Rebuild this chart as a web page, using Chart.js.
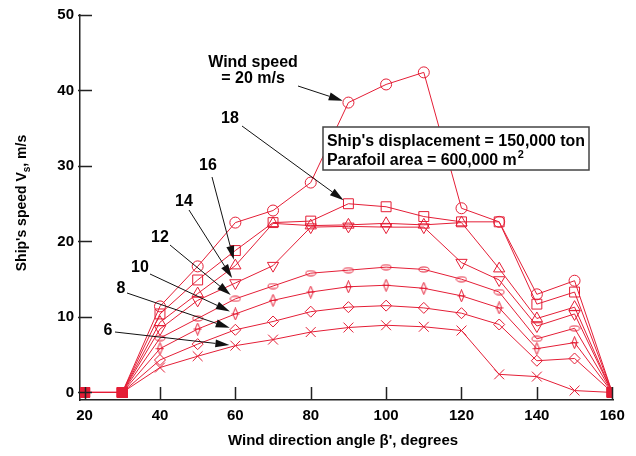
<!DOCTYPE html>
<html>
<head>
<meta charset="utf-8">
<script src="https://cdn.jsdelivr.net/npm/chart.js@4.4.0/dist/chart.umd.min.js"></script>
<style>body{margin:0;background:#fff}canvas{display:block}</style>
</head>
<body>
<canvas id="c" width="636" height="456"></canvas>
<script>
// Ship speed vs wind direction, one curve per wind speed

const angles = [20, 30, 40, 50, 60, 70, 80, 90, 100, 110, 120, 130, 140, 150, 160];
const ws20 = [0, 0, 11.4, 16.7, 22.5, 24.1, 27.8, 38.4, 40.8, 42.4, 24.4, 22.6, 13.0, 14.8, 0];
const ws18 = [0, 0, 10.4, 14.9, 18.8, 22.5, 22.7, 25.0, 24.6, 23.3, 22.6, 22.6, 11.7, 13.3, 0];
const ws16 = [0, 0, 9.3, 13.1, 16.8, 22.4, 22.1, 22.2, 22.4, 22.2, 22.5, 16.4, 9.8, 11.3, 0];
const ws14 = [0, 0, 8.4, 12.2, 14.5, 16.8, 21.9, 22.0, 21.9, 21.9, 17.2, 14.9, 8.8, 10.4, 0];
const ws12 = [0, 0, 7.2, 9.8, 12.4, 14.1, 15.8, 16.2, 16.6, 16.3, 15.0, 13.3, 7.1, 8.5, 0];
const ws10 = [0, 0, 5.8, 8.4, 10.4, 12.2, 13.3, 14.0, 14.2, 13.8, 12.8, 11.2, 5.8, 6.6, 0];
const ws8  = [0, 0, 4.3, 6.4, 8.3, 9.4, 10.7, 11.3, 11.5, 11.2, 10.5, 9.0, 4.2, 4.5, 0];
const ws6  = [0, 0, 3.3, 4.8, 6.2, 7.0, 8.0, 8.6, 8.9, 8.7, 8.2, 2.4, 2.1, 0.25, 0];

const xTicks = [20, 40, 60, 80, 100, 120, 140, 160];
const yTicks = [0, 10, 20, 30, 40, 50];

const RED = '#e41e36';
const FONT = '"Liberation Sans", Arial, sans-serif';

// small custom markers
function markCanvas(w, h, draw){
  const c = document.createElement('canvas');
  c.width = w; c.height = h;
  const g = c.getContext('2d');
  g.strokeStyle = RED; g.lineWidth = 1;
  draw(g);
  return c;
}
const thinDiamond = markCanvas(9, 13, g => {
  g.beginPath();
  g.moveTo(4.5, 0.5); g.lineTo(7, 6.5); g.lineTo(4.5, 12.5); g.lineTo(2, 6.5); g.closePath();
  g.moveTo(0.5, 6.5); g.lineTo(8.5, 6.5);
  g.stroke();
});
const flatEllipse = markCanvas(12, 7, g => {
  g.beginPath(); g.ellipse(6, 3.5, 5, 2.5, 0, 0, Math.PI * 2); g.stroke();
});

const series = [
  { ws: 20, values: ws20, style: 'circle', r: 5.5 },
  { ws: 18, values: ws18, style: 'rect', r: 7 },
  { ws: 16, values: ws16, style: 'triangle', r: 6.5 },
  { ws: 14, values: ws14, style: 'triangle', r: 6.5, rot: 180 },
  { ws: 12, values: ws12, style: flatEllipse, r: 5 },
  { ws: 10, values: ws10, style: thinDiamond, r: 5 },
  { ws: 8,  values: ws8,  style: 'rectRot', r: 5.5 },
  { ws: 6,  values: ws6,  style: 'crossRot', r: 7 }
];

const isZero = c => c.raw && c.raw.y === 0;

const datasets = series.map(s => ({
  label: s.ws + ' m/s',
  data: angles.map((a, i) => ({ x: a, y: s.values[i] })),
  showLine: true,
  tension: 0,
  borderColor: RED,
  borderWidth: 1,
  pointStyle: c => isZero(c) ? 'rect' : s.style,
  pointRotation: c => isZero(c) ? 0 : (s.rot || 0),
  pointRadius: c => isZero(c) ? 7 : s.r,
  pointBorderColor: RED,
  pointBorderWidth: 1,
  pointBackgroundColor: c => isZero(c) ? RED : 'rgba(0,0,0,0)'
}));

// callouts: label position (px) + arrow start, arrow points at a data point
const callouts = [
  { text: ['Wind speed', '= 20 m/s'], at: [253, 63], from: [298, 86], ws: 20, angle: 90 },
  { text: ['18'], at: [230, 119], from: [242, 126], ws: 18, angle: 90 },
  { text: ['16'], at: [208, 166], from: [212, 177], ws: 16, angle: 60 },
  { text: ['14'], at: [184, 202], from: [189, 210], ws: 14, angle: 60 },
  { text: ['12'], at: [160, 238], from: [170, 245], ws: 12, angle: 60 },
  { text: ['10'], at: [140, 268], from: [150, 274], ws: 10, angle: 60 },
  { text: ['8'],  at: [121, 289], from: [127, 293], ws: 8,  angle: 60 },
  { text: ['6'],  at: [108, 331], from: [115, 332], ws: 6,  angle: 60 }
];

function fitText(ctx, txt, x, y, width){
  const w = ctx.measureText(txt).width;
  ctx.save();
  ctx.translate(x, y);
  ctx.scale(Math.min(1, width / w), 1);
  ctx.fillText(txt, 0, 0);
  ctx.restore();
}

function arrow(ctx, x0, y0, x1, y1){
  const a = Math.atan2(y1 - y0, x1 - x0);
  const L = 14, W = 4;
  ctx.strokeStyle = '#111'; ctx.fillStyle = '#111'; ctx.lineWidth = 1;
  ctx.beginPath(); ctx.moveTo(x0, y0); ctx.lineTo(x1 - Math.cos(a) * L, y1 - Math.sin(a) * L); ctx.stroke();
  ctx.beginPath();
  ctx.moveTo(x1, y1);
  ctx.lineTo(x1 - Math.cos(a) * L - Math.sin(a) * W, y1 - Math.sin(a) * L + Math.cos(a) * W);
  ctx.lineTo(x1 - Math.cos(a) * L + Math.sin(a) * W, y1 - Math.sin(a) * L - Math.cos(a) * W);
  ctx.closePath(); ctx.fill();
}

const decor = {
  id: 'decor',
  afterDraw(chart){
    const ctx = chart.ctx;
    const xs = chart.scales.x, ys = chart.scales.y;
    const area = chart.chartArea;
    ctx.save();

    // inward tick marks
    ctx.strokeStyle = '#222'; ctx.lineWidth = 1.5;
    ctx.beginPath();
    yTicks.forEach(v => { const p = Math.round(ys.getPixelForValue(v)) + 0.5; ctx.moveTo(area.left - 2, p); ctx.lineTo(area.left + 12, p); });
    xTicks.forEach(v => { const p = Math.round(xs.getPixelForValue(v)) + 0.5; ctx.moveTo(p, area.bottom); ctx.lineTo(p, area.bottom - 13); });
    ctx.stroke();

    ctx.fillStyle = '#000';
    ctx.textBaseline = 'middle';
    ctx.textAlign = 'center';

    // callouts
    callouts.forEach(c => {
      const s = series.find(q => q.ws === c.ws);
      const i = angles.indexOf(c.angle);
      const tx = xs.getPixelForValue(c.angle), ty = ys.getPixelForValue(s.values[i]);
      const d = Math.hypot(tx - c.from[0], ty - c.from[1]);
      const gap = 6;
      arrow(ctx, c.from[0], c.from[1], tx - (tx - c.from[0]) / d * gap, ty - (ty - c.from[1]) / d * gap);
      ctx.fillStyle = '#000';
      ctx.font = 'bold 16px ' + FONT;
      c.text.forEach((t, k) => ctx.fillText(t, c.at[0], c.at[1] + k * 16));
    });

    // info box
    ctx.strokeStyle = '#444'; ctx.lineWidth = 1.5;
    ctx.fillStyle = '#fff';
    ctx.fillRect(323, 127, 266, 43);
    ctx.strokeRect(323, 127, 266, 43);
    ctx.fillStyle = '#000';
    ctx.textAlign = 'left'; ctx.textBaseline = 'alphabetic';
    ctx.font = 'bold 16px ' + FONT;
    const l1 = "Ship's displacement = 150,000 ton";
    const k = 258 / ctx.measureText(l1).width;
    ctx.save();
    ctx.translate(327, 146); ctx.scale(k, 1);
    ctx.fillText(l1, 0, 0);
    const l2 = 'Parafoil area = 600,000 m';
    ctx.fillText(l2, 0, 19);
    const w2 = ctx.measureText(l2).width;
    ctx.font = 'bold 11px ' + FONT;
    ctx.fillText('2', w2 + 1, 12);
    ctx.restore();

    // x title
    ctx.font = 'bold 15px ' + FONT;
    ctx.textAlign = 'left'; ctx.textBaseline = 'middle';
    const xt = "Wind direction angle \u03b2', degrees";
    const xw = 240;
    fitText(ctx, xt, 348 - xw / 2, 441, xw);

    // y title with subscript
    ctx.save();
    ctx.translate(21, 203);
    ctx.rotate(-Math.PI / 2);
    const p1 = "Ship's speed V", p2 = 's', p3 = ', m/s';
    ctx.font = 'bold 14px ' + FONT;
    const w1 = ctx.measureText(p1).width, w3 = ctx.measureText(p3).width;
    ctx.font = 'bold 10px ' + FONT;
    const wsub = ctx.measureText(p2).width;
    const total = w1 + wsub + w3;
    const sc = Math.min(1, 157 / total);
    ctx.scale(sc, 1);
    let x0 = -total / 2;
    ctx.textBaseline = 'alphabetic';
    ctx.font = 'bold 14px ' + FONT;
    ctx.fillText(p1, x0, 5);
    ctx.font = 'bold 10px ' + FONT;
    ctx.fillText(p2, x0 + w1, 9);
    ctx.font = 'bold 14px ' + FONT;
    ctx.fillText(p3, x0 + w1 + wsub, 5);
    ctx.restore();

    ctx.restore();
  }
};

new Chart(document.getElementById('c'), {
  type: 'scatter',
  data: { datasets },
  options: {
    responsive: false,
    animation: false,
    devicePixelRatio: 1,
    layout: { padding: { top: 12, right: 23, left: 0, bottom: 0 } },
    plugins: { legend: { display: false }, tooltip: { enabled: false } },
    scales: {
      x: {
        type: 'linear',
        min: 18.78, max: 160.2,
        afterBuildTicks: s => { s.ticks = xTicks.map(v => ({ value: v })); },
        afterFit: s => { s.height = 56; },
        grid: { display: true, drawOnChartArea: false, drawTicks: false },
        border: { color: '#222', width: 1.5 },
        ticks: { padding: 7, color: '#000', font: { family: FONT, size: 15, weight: 'bold' }, maxRotation: 0 }
      },
      y: {
        min: -1, max: 50,
        afterBuildTicks: s => { s.ticks = yTicks.map(v => ({ value: v })); },
        afterFit: s => { s.width = 80; },
        grid: { display: true, drawOnChartArea: false, drawTicks: false },
        border: { color: '#222', width: 1.5 },
        ticks: { padding: 6, color: '#000', font: { family: FONT, size: 15, weight: 'bold' } }
      }
    }
  },
  plugins: [decor]
});
</script>
</body>
</html>
